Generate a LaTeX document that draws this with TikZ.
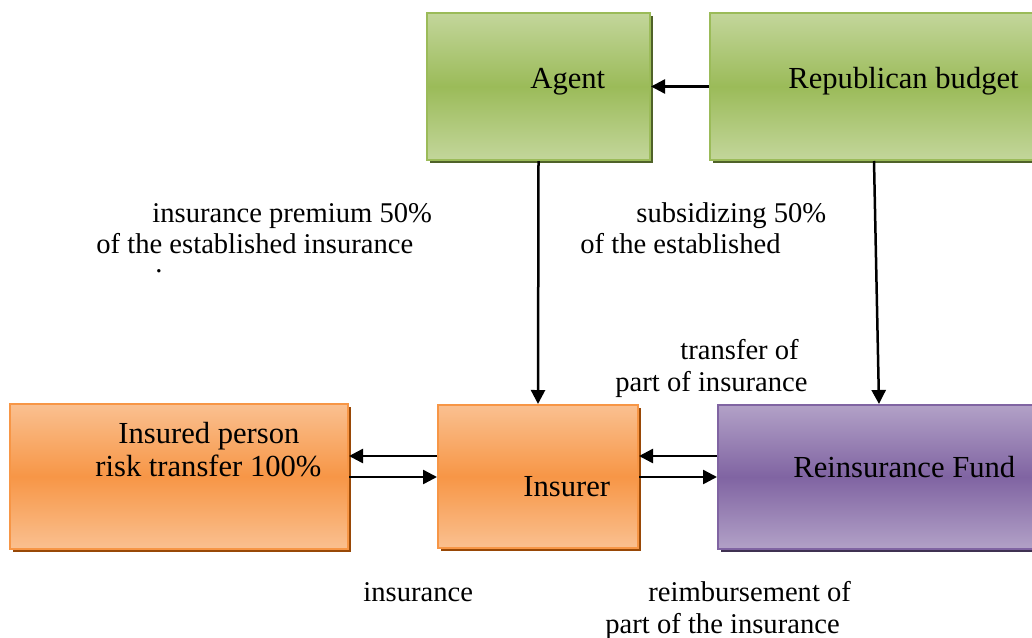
\documentclass[tikz,border=0pt]{standalone}
\usepackage{fontspec}
\setmainfont{Liberation Serif}
\usetikzlibrary{calc,arrows.meta}
\definecolor{grnlt}{RGB}{195,214,155}
\definecolor{grnmd}{RGB}{155,187,89}
\definecolor{grndk}{RGB}{79,98,40}
\definecolor{orglt}{RGB}{250,192,144}
\definecolor{orgmd}{RGB}{247,150,70}
\definecolor{orgdk}{RGB}{152,72,6}
\definecolor{prplt}{RGB}{178,161,199}
\definecolor{prpmd}{RGB}{128,100,162}
\definecolor{prpdk}{RGB}{63,49,81}
\tikzset{
  box/.style={rectangle, inner sep=0pt, line width=1pt},
  greenbox/.style={box, draw=grnmd, top color=grnlt, bottom color=grnlt, middle color=grnmd,
    preaction={fill=grndk, transform canvas={xshift=1.5pt,yshift=-1.5pt}}},
  orangebox/.style={box, draw=orgmd, top color=orglt, bottom color=orglt, middle color=orgmd,
    preaction={fill=orgdk, transform canvas={xshift=1.5pt,yshift=-1.5pt}}},
  purplebox/.style={box, draw=prpmd, top color=prplt, bottom color=prplt, middle color=prpmd,
    preaction={fill=prpdk, transform canvas={xshift=1.5pt,yshift=-1.5pt}}},
  boxtext/.style={inner sep=0pt, anchor=base west, font=\fontsize{15.3}{18}\selectfont},
  lbl/.style={inner sep=0pt, anchor=base west, font=\fontsize{14.3}{17}\selectfont},
  arr/.style={-{Triangle[length=7pt,width=7pt]}, line width=1.25pt}
}
\begin{document}
\begin{tikzpicture}[x=0.5pt, y=-0.5pt]
		\useasboundingbox (0,0) rectangle (1032,637);
		\node (agent) [greenbox, minimum width=111.5pt, minimum height=73.5pt] at (538.5,86.5) {};
		\node (budget) [greenbox, minimum width=175pt, minimum height=73.5pt] at (885,86.5) {};
		\node (insured) [orangebox, minimum width=169pt, minimum height=72.5pt] at (179,476.5) {};
		\node (insurer) [orangebox, minimum width=100pt, minimum height=71.5pt] at (538,476.5) {};
		\node (fund) [purplebox, minimum width=171pt, minimum height=72pt] at (889,477) {};
		\node (agenttxt) [boxtext] at (530,88) {Agent};
		\node (budgettxt) [boxtext] at (788,88) {Republican budget};
		\node (insuredtxt) [boxtext] at (118,443) {Insured person};
		\node (risktxt) [boxtext] at (95,476) {risk transfer 100\%};
		\node (insurertxt) [boxtext] at (523,496) {Insurer};
		\node (fundtxt) [boxtext] at (793,477) {Reinsurance Fund};
		\node (prem1) [lbl] at (152,222) {insurance premium 50\%};
		\node (prem2) [lbl] at (96,253) {of the established insurance};
		\node (prem3) [lbl] at (155,272) {.};
		\node (subs1) [lbl] at (636,222) {subsidizing 50\%};
		\node (subs2) [lbl] at (580,253) {of the established};
		\node (trans1) [lbl] at (680,359) {transfer of};
		\node (trans2) [lbl] at (615,391) {part of insurance};
		\node (ins) [lbl] at (363,601) {insurance};
		\node (reimb1) [lbl] at (648,601) {reimbursement of};
		\node (reimb2) [lbl] at (605,633) {part of the insurance};
		\draw[arr] (budget.west) -- (agent.east);
		\draw[arr] (agent.south) -- (insurer.north);
		\draw[arr] ($(budget.south)+(-11,0)$) -- ($(fund.north)+(-10,0)$);
		\draw[arr] ($(insurer.west)+(0,-20.5)$) -- ($(insured.east)+(0,-20.5)$);
		\draw[arr] ($(insured.east)+(0,0.5)$) -- ($(insurer.west)+(0,0.5)$);
		\draw[arr] ($(fund.west)+(0,-21)$) -- ($(insurer.east)+(0,-20.5)$);
		\draw[arr] ($(insurer.east)+(0,0.5)$) -- ($(fund.west)+(0,0)$);
		\end{tikzpicture}
\end{document}
